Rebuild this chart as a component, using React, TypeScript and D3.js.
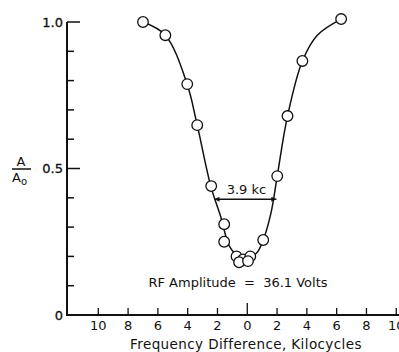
import React, { useEffect, useRef } from 'react';
import * as d3 from 'd3';

// observed points: frequency difference (kc) and A/A0
const obsFreq = [-7.0, -5.5, -4.03, -3.36, -2.42, -1.55, -1.55, -0.72, -0.27, 0.2, -0.55, 0.05, 1.07, 2.01, 2.7, 3.7, 6.3];
const obsAmp = [1.0, 0.955, 0.788, 0.648, 0.44, 0.31, 0.25, 0.2, 0.19, 0.2, 0.18, 0.184, 0.256, 0.474, 0.679, 0.867, 1.01];

// hand-drawn smooth curve
const curveFreq = [-7.0, -5.5, -4.05, -3.36, -2.45, -1.75, -1.5, -1.2, -0.7, 0, 0.6, 1.07, 1.6, 2.01, 2.7, 3.7, 4.7, 6.3];
const curveAmp = [1.0, 0.955, 0.79, 0.648, 0.44, 0.33, 0.28, 0.235, 0.205, 0.2, 0.21, 0.256, 0.35, 0.474, 0.679, 0.867, 0.955, 1.01];

// half-power width marker
const widthLevel = 0.395;
const widthLeft = -2.2;
const widthRight = 1.95;
const widthLabel = '3.9 kc';

const xTicks = [-10, -8, -6, -4, -2, 0, 2, 4, 6, 8, 10];
const yTicks = [0.1, 0.2, 0.3, 0.4, 0.5, 0.6, 0.7, 0.8, 0.9, 1.0];
const yLabels = [
  { v: 1.0, t: '1.0' },
  { v: 0.5, t: '0.5' },
  { v: 0, t: '0' },
];

const W = 399;
const H = 352;
const FONT = "'DejaVu Sans', sans-serif";

const App: React.FC = () => {
  const ref = useRef<SVGSVGElement | null>(null);

  useEffect(() => {
    if (!ref.current) return;
    const svg = d3.select(ref.current);
    svg.selectAll('*').remove();

    const x = d3.scaleLinear().domain([-12.1, 10.15]).range([67, 398.5]);
    const y = d3.scaleLinear().domain([0, 1]).range([315, 22]);
    const x0 = x(-12.1);
    const y0 = y(0);

    const g = svg.append('g');

    // axes lines
    g.append('line')
      .attr('x1', x0).attr('x2', x0)
      .attr('y1', y(1)).attr('y2', y0 + 1)
      .attr('stroke', '#111').attr('stroke-width', 2);
    g.append('line')
      .attr('x1', x0 - 1).attr('x2', W)
      .attr('y1', y0).attr('y2', y0)
      .attr('stroke', '#111').attr('stroke-width', 2);

    // y ticks (inward)
    g.selectAll('line.yt')
      .data(yTicks)
      .enter()
      .append('line')
      .attr('class', 'yt')
      .attr('x1', x0)
      .attr('x2', d => x0 + (Math.abs(d - 0.5) < 1e-6 || Math.abs(d - 1) < 1e-6 ? 13 : 7))
      .attr('y1', d => y(d))
      .attr('y2', d => y(d))
      .attr('stroke', '#111')
      .attr('stroke-width', 1.5);

    g.selectAll('text.yl')
      .data(yLabels)
      .enter()
      .append('text')
      .attr('class', 'yl')
      .attr('x', x0 - 4)
      .attr('y', d => y(d.v) + 4.5)
      .attr('text-anchor', 'end')
      .attr('font-family', FONT)
      .attr('font-size', 13)
      .attr('stroke', '#111')
      .attr('stroke-width', 0.3)
      .attr('fill', '#111')
      .text(d => d.t);

    // x ticks (inward)
    g.selectAll('line.xt')
      .data(xTicks)
      .enter()
      .append('line')
      .attr('class', 'xt')
      .attr('x1', d => x(d))
      .attr('x2', d => x(d))
      .attr('y1', y0)
      .attr('y2', d => y0 - (d === 0 ? 12 : 7))
      .attr('stroke', '#111')
      .attr('stroke-width', 1.3);

    g.selectAll('text.xl')
      .data(xTicks)
      .enter()
      .append('text')
      .attr('class', 'xl')
      .attr('x', d => x(d))
      .attr('y', y0 + 15)
      .attr('text-anchor', 'middle')
      .attr('font-family', FONT)
      .attr('font-size', 13)
      .attr('fill', '#111')
      .text(d => String(Math.abs(d)));

    // axis titles
    g.append('text')
      .attr('x', 246)
      .attr('y', 349)
      .attr('text-anchor', 'middle')
      .attr('font-family', FONT)
      .attr('font-size', 13.5)
      .attr('letter-spacing', 0.4)
      .attr('fill', '#111')
      .text('Frequency Difference, Kilocycles');

    const yt = g.append('g').attr('font-family', FONT).attr('fill', '#111');
    yt.append('text').attr('x', 21).attr('y', 166).attr('text-anchor', 'middle')
      .attr('font-size', 13).text('A');
    yt.append('line').attr('x1', 12).attr('x2', 31).attr('y1', 169).attr('y2', 169)
      .attr('stroke', '#111').attr('stroke-width', 1.5);
    const a0 = yt.append('text').attr('x', 12).attr('y', 182).attr('font-size', 13);
    a0.append('tspan').text('A');
    a0.append('tspan').attr('dy', 3).attr('font-size', 10).text('o');

    // curve
    const curvePts = curveFreq.map((f, i) => [f, curveAmp[i]] as [number, number]);
    const line = d3
      .line<[number, number]>()
      .x(d => x(d[0]))
      .y(d => y(d[1]))
      .curve(d3.curveCatmullRom.alpha(0.5));
    g.append('path')
      .datum(curvePts)
      .attr('fill', 'none')
      .attr('stroke', '#111')
      .attr('stroke-width', 1.5)
      .attr('d', line);

    // width marker with arrows
    const defs = svg.append('defs');
    defs.append('marker')
      .attr('id', 'arr')
      .attr('viewBox', '0 0 10 10')
      .attr('refX', 10).attr('refY', 5)
      .attr('markerWidth', 7).attr('markerHeight', 5)
      .attr('markerUnits', 'userSpaceOnUse')
      .attr('orient', 'auto-start-reverse')
      .append('path')
      .attr('d', 'M0,0 L10,5 L0,10 Z')
      .attr('fill', '#111');
    g.append('line')
      .attr('x1', x(widthLeft)).attr('x2', x(widthRight))
      .attr('y1', y(widthLevel)).attr('y2', y(widthLevel))
      .attr('stroke', '#111').attr('stroke-width', 1.3)
      .attr('marker-start', 'url(#arr)')
      .attr('marker-end', 'url(#arr)');
    g.append('text')
      .attr('x', x((widthLeft + widthRight) / 2) + 1)
      .attr('y', y(widthLevel) - 5)
      .attr('text-anchor', 'middle')
      .attr('font-family', FONT)
      .attr('font-size', 13)
      .attr('fill', '#111')
      .text(widthLabel);

    // annotation
    g.append('text')
      .attr('x', 238)
      .attr('y', 287)
      .attr('text-anchor', 'middle')
      .attr('font-family', FONT)
      .attr('font-size', 13)
      .attr('fill', '#111')
      .attr('xml:space', 'preserve')
      .text('RF Amplitude  =  36.1 Volts');

    // observed points
    g.selectAll('circle.obs')
      .data(obsFreq.map((f, i) => [f, obsAmp[i]]))
      .enter()
      .append('circle')
      .attr('class', 'obs')
      .attr('cx', d => x(d[0]))
      .attr('cy', d => y(d[1]))
      .attr('r', 5.3)
      .attr('fill', '#fff')
      .attr('stroke', '#111')
      .attr('stroke-width', 1.3);
  }, []);

  return (
    <svg
      ref={ref}
      width={W}
      height={H}
      style={{ position: 'absolute', left: 0, top: 0, background: '#fff' }}
    />
  );
};

export default App;
